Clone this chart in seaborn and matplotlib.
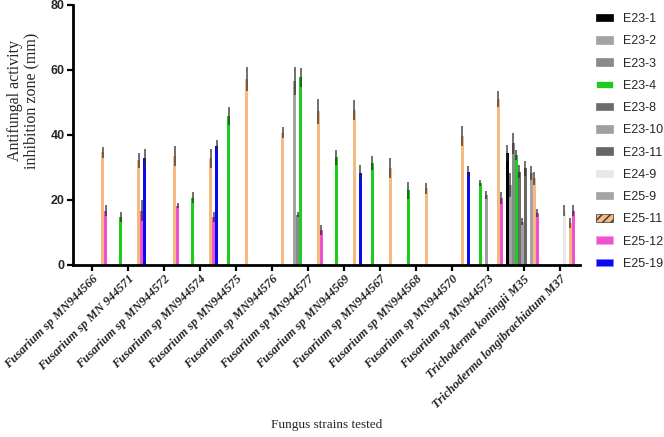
"""
Halos de inhibición antifúngica por cepa de hongo y aislado.
"""
import numpy as np
import pandas as pd
import matplotlib
matplotlib.use("Agg")
import matplotlib.pyplot as plt
import seaborn as sns
from matplotlib.patches import Patch

n = np.nan

cepas = ['Fusarium sp MN944566', 'Fusarium sp MN 944571', 'Fusarium sp MN944572',
         'Fusarium sp MN944574', 'Fusarium sp MN944575', 'Fusarium sp MN944576',
         'Fusarium sp MN944577', 'Fusarium sp MN944569', 'Fusarium sp MN944567',
         'Fusarium sp MN944568', 'Fusarium sp MN944570', 'Fusarium sp MN944573',
         'Trichoderma koningii M35', 'Trichoderma longibrachiatum M37']

aislados = ['E23-1', 'E23-2', 'E23-3', 'E23-4', 'E23-8', 'E23-10', 'E23-11',
            'E24-9', 'E25-9', 'E25-11', 'E25-12', 'E25-19']

colores = ['#000000', '#a4a4a8', '#8a8a8a', '#1ecb1e', '#6c6c6c', '#a0a0a4',
           '#666666', '#e8e8e8', '#a4a4a8', '#f5b982', '#f052cc', '#0a0af0']

# valores (mm) por aislado, una entrada por cepa
e23_1 = [n, n, n, n, n, n, n, n, n, n, n, n, 34.4, n]
e23_2 = [n, n, n, n, n, n, 56.7, n, n, n, n, n, 24.6, n]
e23_3 = [n, n, n, n, n, n, 15.4, n, n, n, n, n, 37.4, n]
e23_4 = [n, 14.7, n, 20.7, 45.8, n, 57.7, 33.1, 31.3, 22.9, n, 25.3, 33.8, n]
e23_8 = [n, n, n, n, n, n, n, n, n, n, n, n, 28.7, n]
e23_10 = [n, n, n, n, n, n, n, n, n, n, n, 21.5, 13.3, n]
e23_11 = [n, n, n, n, n, n, n, n, n, n, n, n, 29.7, n]
e24_9 = [n, n, n, n, n, n, n, n, n, n, n, n, n, 16.7]
e25_9 = [n, n, n, n, n, n, n, n, n, n, n, n, 28.2, n]
e25_11 = [34.6, 32.1, 33.6, 32.8, 57.2, 40.7, 47.2, 47.7, 29.7, 23.6, 39.7, 51.1, 26.7, 12.8]
e25_12 = [16.7, 16.7, 18.2, 14.7, n, n, 10.8, n, n, n, n, 20.5, 15.9, 16.7]
e25_19 = [n, 32.8, n, 36.7, n, n, n, 28.2, n, n, 28.7, n, n, n]

# desviaciones (mm)
e23_1_err = [n, n, n, n, n, n, n, n, n, n, n, n, 2.5, n]
e23_2_err = [n, n, n, n, n, n, 4.3, n, n, n, n, n, 3.6, n]
e23_3_err = [n, n, n, n, n, n, 0.8, n, n, n, n, n, 3.3, n]
e23_4_err = [n, 1.6, n, 1.7, 2.9, n, 3.0, 2.3, 2.2, 2.7, n, 0.9, 1.5, n]
e23_8_err = [n, n, n, n, n, n, n, n, n, n, n, n, 2.1, n]
e23_10_err = [n, n, n, n, n, n, n, n, n, n, n, 1.2, 1.1, n]
e23_11_err = [n, n, n, n, n, n, n, n, n, n, n, n, 2.3, n]
e24_9_err = [n, n, n, n, n, n, n, n, n, n, n, n, n, 1.6]
e25_9_err = [n, n, n, n, n, n, n, n, n, n, n, n, 2.1, n]
e25_11_err = [1.8, 2.4, 3.1, 2.9, 3.8, 1.7, 3.8, 3.1, 3.1, 1.7, 3.1, 2.5, 2.0, 1.6]
e25_12_err = [1.8, 3.3, 0.8, 1.6, n, n, 1.5, n, n, n, n, 1.9, 1.2, 1.6]
e25_19_err = [n, 2.9, n, 1.8, n, n, n, 2.4, n, n, 1.8, n, n, n]

valores = [e23_1, e23_2, e23_3, e23_4, e23_8, e23_10, e23_11, e24_9, e25_9,
           e25_11, e25_12, e25_19]
errores = [e23_1_err, e23_2_err, e23_3_err, e23_4_err, e23_8_err, e23_10_err,
           e23_11_err, e24_9_err, e25_9_err, e25_11_err, e25_12_err, e25_19_err]

# Tabla larga para seaborn
filas = []
for aislado, vals in zip(aislados, valores):
    for cepa, v in zip(cepas, vals):
        if not np.isnan(v):
            filas.append({'cepa': cepa, 'aislado': aislado, 'halo': v})
datos = pd.DataFrame(filas)

sns.set_style("ticks")
plt.rcParams['font.family'] = ['Liberation Sans', 'DejaVu Sans']

fig = plt.figure(figsize=(6.64, 4.37), dpi=100)
ax = fig.add_axes([0.110, 0.394, 0.763, 0.595])

sns.barplot(data=datos, x='cepa', y='halo', hue='aislado', order=cepas,
            hue_order=aislados, palette=dict(zip(aislados, colores)),
            width=1.0, saturation=1, errorbar=None, linewidth=0,
            legend=False, ax=ax)

# Barras de error sobre cada barra
for cont, errs in zip(ax.containers, errores):
    for barra in cont:
        xc = barra.get_x() + barra.get_width() / 2
        idx = int(round(xc))
        e = errs[idx]
        if not np.isnan(e):
            ax.errorbar(xc, barra.get_height(), yerr=e, fmt='none',
                        ecolor='#2a2a2a', elinewidth=1.1, capsize=0, alpha=0.85)

ax.set_xlim(-0.53, 13.55)
ax.set_ylim(0, 80)
ax.set_yticks([0, 20, 40, 60, 80])
ax.set_xticks(range(len(cepas)))
ax.set_xticklabels(cepas, rotation=45, ha='right', rotation_mode='anchor',
                   fontfamily='Liberation Serif', fontweight='bold',
                   fontstyle='italic', fontsize=9)
for t in ax.get_yticklabels():
    t.set_fontweight('bold')
    t.set_fontsize(9)
ax.tick_params(axis='both', width=1.6, length=4, color='black', pad=2)
ax.set_xlabel('')
ax.set_ylabel('')
sns.despine(ax=ax)
for lado in ['left', 'bottom']:
    ax.spines[lado].set_linewidth(2)
    ax.spines[lado].set_color('black')

fig.text(0.035, 0.77, 'Antifungal activity\ninhibition zone (mm)',
         rotation=90, ha='center', va='center', fontsize=11.5,
         family='Liberation Serif', linespacing=1.1)
fig.text(0.492, 0.027, 'Fungus strains tested', ha='center', va='center',
         fontsize=9.5, family='Liberation Serif')

# Leyenda
tramas = {'E23-4': '-', 'E25-11': '////', 'E25-12': '.', 'E25-19': '-'}
bordes = {'E23-4': '#ffffff', 'E25-11': '#333333', 'E25-12': '#f8a0e8',
          'E25-19': '#8080ff'}
manijas = [Patch(facecolor=c, edgecolor=bordes.get(a, c), hatch=tramas.get(a),
                 linewidth=0.5, label=a)
           for a, c in zip(aislados, colores)]
fig.legend(handles=manijas, loc='upper left', bbox_to_anchor=(0.885, 0.99),
           frameon=False, fontsize=9, handlelength=1.35, handleheight=0.55,
           handletextpad=0.8, labelspacing=0.82, borderaxespad=0.3)

fig.savefig('out.png', dpi=100)
plt.close(fig)
